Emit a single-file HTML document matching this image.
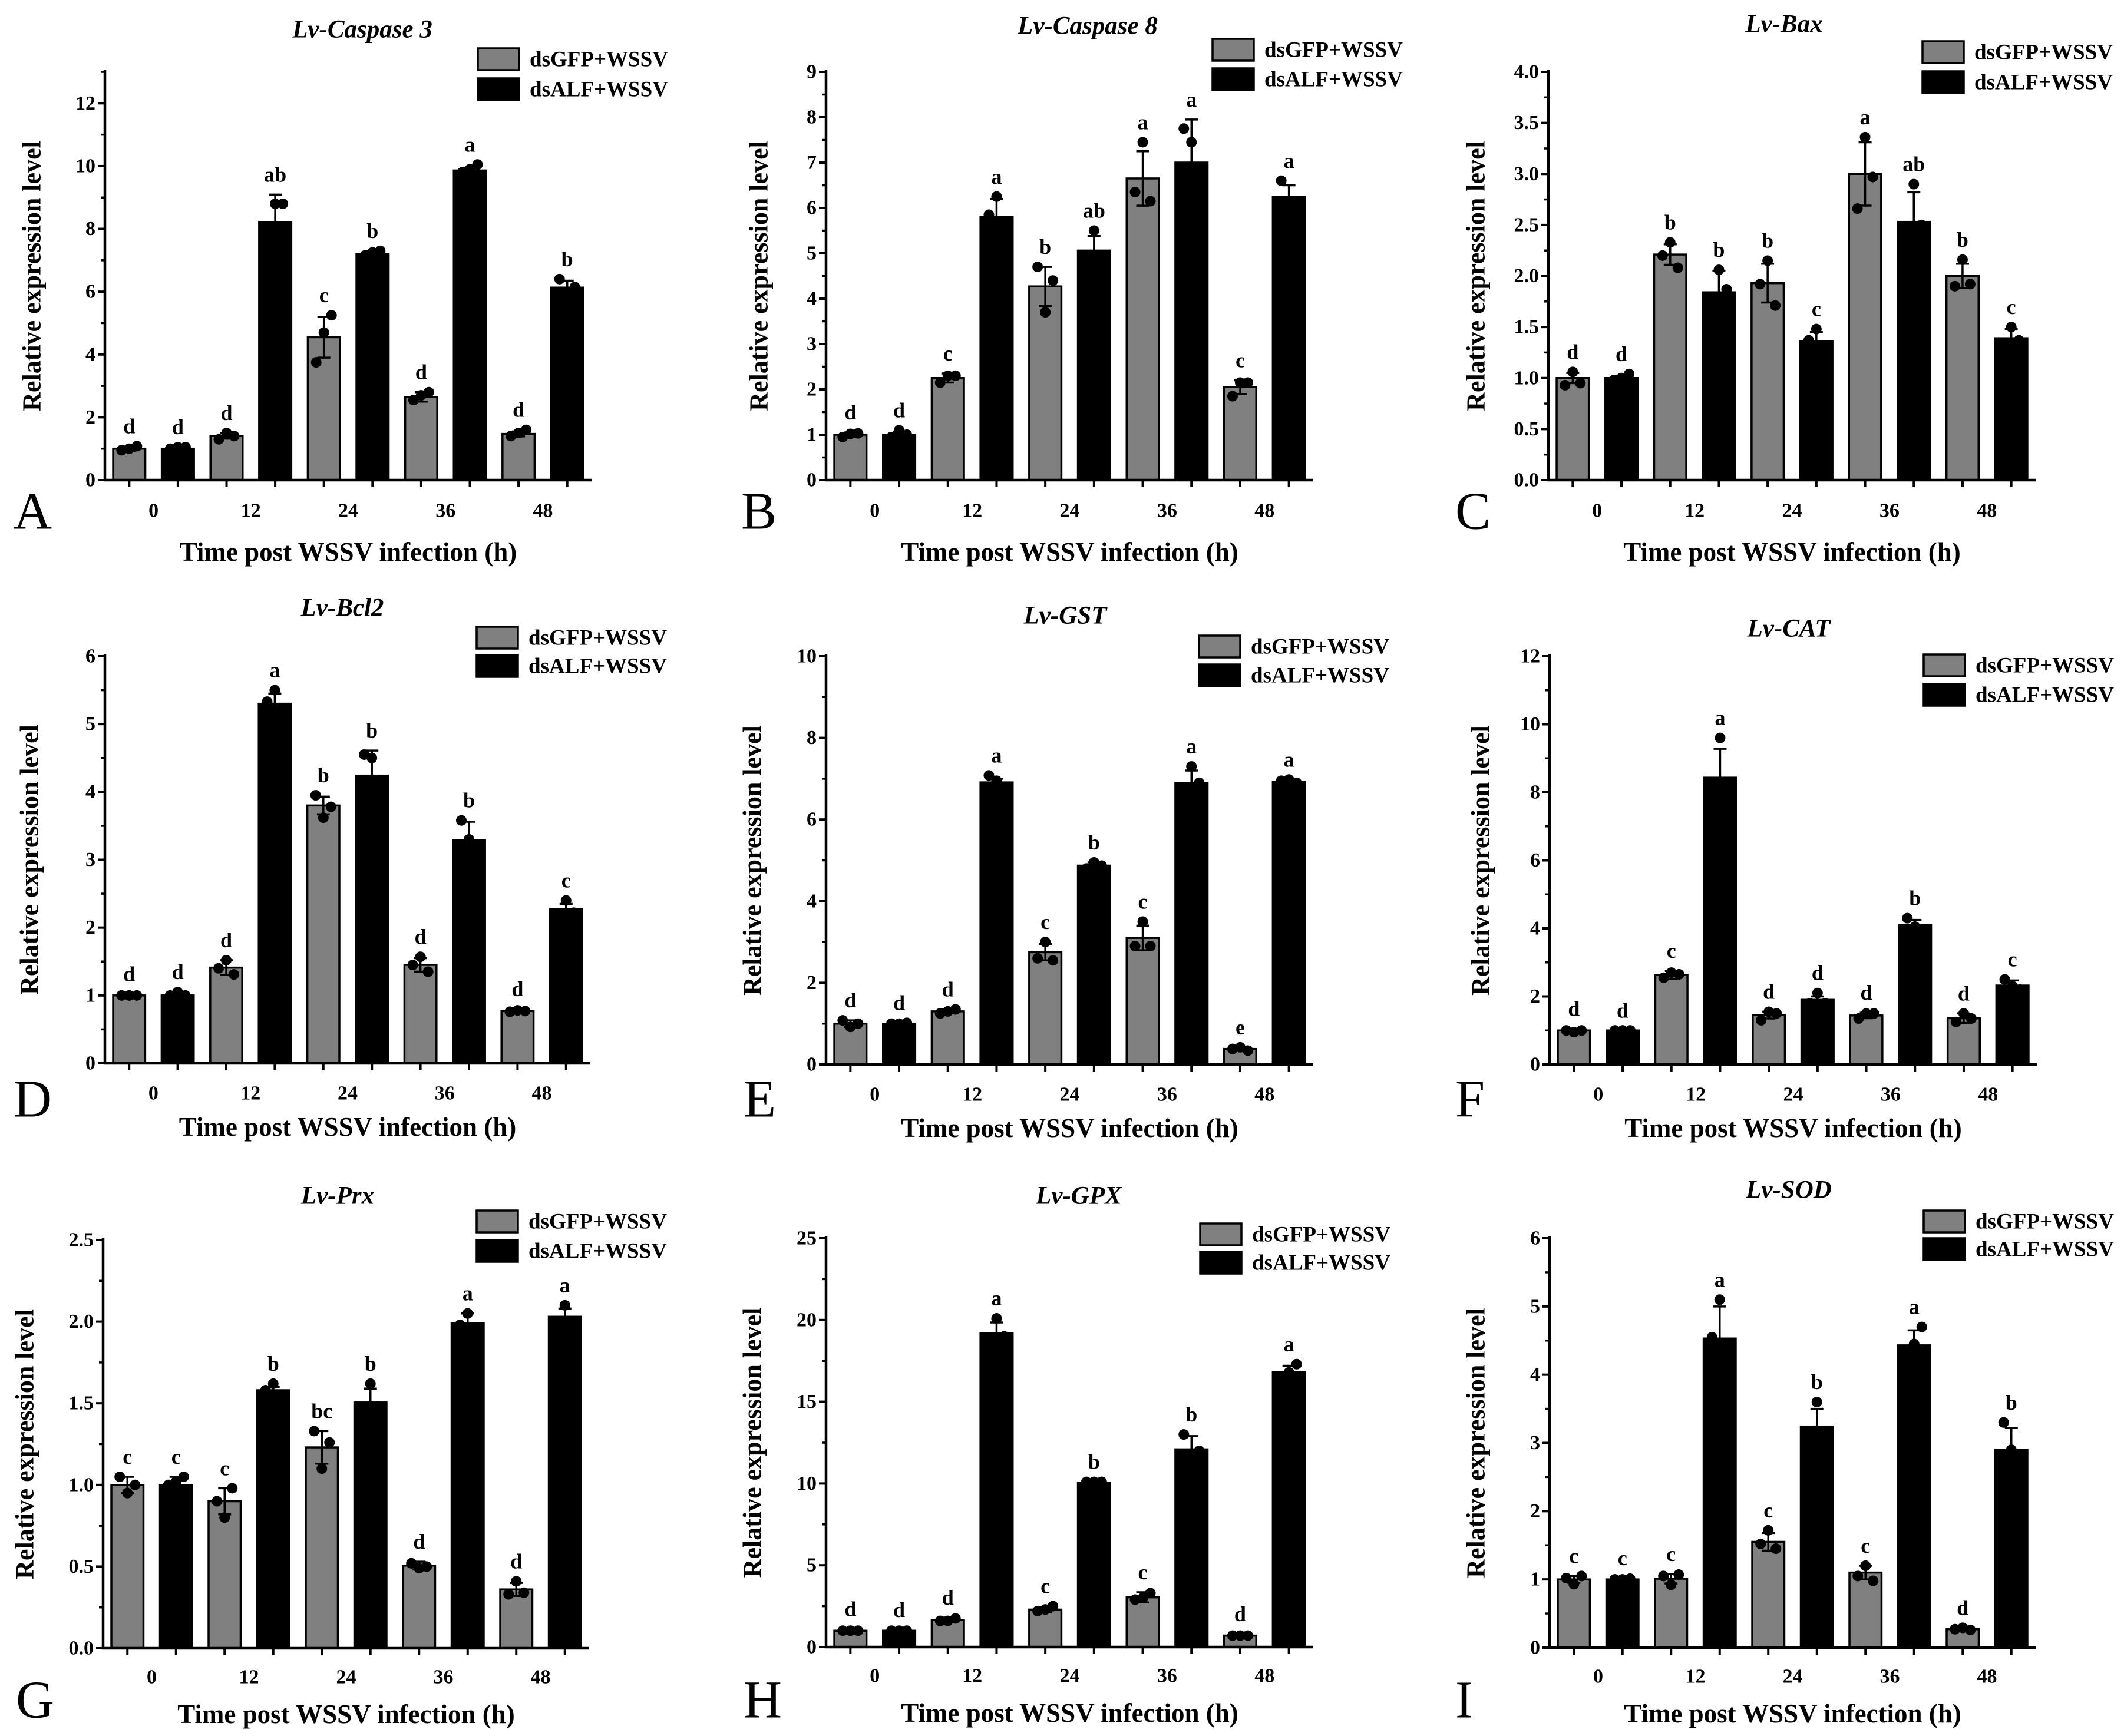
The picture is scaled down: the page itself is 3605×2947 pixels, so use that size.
<!DOCTYPE html>
<html><head><meta charset="utf-8">
<style>
html,body{margin:0;padding:0;background:#fff;}
svg{display:block;}
text{font-family:"Liberation Serif","Times New Roman",serif;}
</style></head>
<body>
<svg id="fig" width="3605" height="2947" viewBox="0 0 3605 2947" xmlns="http://www.w3.org/2000/svg"></svg>
<script>
// ---------- data ----------
const categories = ['0','12','24','36','48'];
const seriesNames = ['dsGFP+WSSV','dsALF+WSSV'];

const casp3Gray = [1.0,1.41,4.55,2.65,1.47];
const casp3Black = [1.0,8.22,7.2,9.86,6.13];
const casp3GrayUp = [1.07,1.5,5.2,2.8,1.55];
const casp3BlackUp = [1.05,9.09,7.3,9.95,6.35];
const casp3GrayDots = [[0.95,1.0,1.08],[1.3,1.5,1.4],[3.75,4.7,5.25],[2.55,2.7,2.8],[1.4,1.5,1.6]];
const casp3BlackDots = [[1.0,1.05,1.05],[7.9,8.8,8.8],[7.15,7.25,7.3],[9.8,9.9,10.05],[6.4,5.95,6.15]];
const casp3GrayLetters = ['d','d','c','d','d'];
const casp3BlackLetters = ['d','ab','b','a','b'];

const casp8Gray = [1.0,2.25,4.27,6.65,2.05];
const casp8Black = [1.0,5.8,5.06,7.0,6.25];
const casp8GrayUp = [1.05,2.35,4.7,7.25,2.2];
const casp8BlackUp = [1.07,6.2,5.38,7.95,6.5];
const casp8GrayDots = [[0.95,1.02,1.03],[2.15,2.3,2.3],[4.7,3.7,4.4],[6.35,7.45,6.15],[1.85,2.15,2.15]];
const casp8BlackDots = [[0.95,1.1,1.0],[5.85,6.25,5.3],[4.8,5.5,4.9],[7.75,7.45,5.8],[6.6,6.0,6.15]];
const casp8GrayLetters = ['d','c','b','a','c'];
const casp8BlackLetters = ['d','a','ab','a','a'];

const baxGray = [1.0,2.21,1.93,3.0,2.0];
const baxBlack = [1.0,1.84,1.36,2.53,1.39];
const baxGrayUp = [1.05,2.31,2.12,3.31,2.12];
const baxBlackUp = [1.02,2.05,1.45,2.82,1.48];
const baxGrayDots = [[0.93,1.06,0.95],[2.2,2.33,2.08],[1.92,2.15,1.71],[2.66,3.36,2.97],[1.9,2.16,1.92]];
const baxBlackDots = [[0.98,1.0,1.04],[1.6,2.06,1.87],[1.37,1.48,1.25],[2.2,2.9,2.5],[1.3,1.5,1.37]];
const baxGrayLetters = ['d','b','b','a','b'];
const baxBlackLetters = ['d','b','c','ab','c'];

const bcl2Gray = [1.0,1.41,3.8,1.45,0.77];
const bcl2Black = [1.0,5.3,4.24,3.29,2.27];
const bcl2GrayUp = [1.02,1.52,3.93,1.55,0.8];
const bcl2BlackUp = [1.03,5.45,4.61,3.56,2.35];
const bcl2GrayDots = [[1.0,1.0,1.0],[1.4,1.52,1.31],[3.95,3.62,3.78],[1.45,1.57,1.35],[0.76,0.78,0.77]];
const bcl2BlackDots = [[1.0,1.05,1.0],[5.33,5.5,5.05],[4.55,4.5,3.7],[3.58,3.3,3.0],[2.2,2.4,2.22]];
const bcl2GrayLetters = ['d','d','b','d','d'];
const bcl2BlackLetters = ['d','a','b','b','c'];

const gstGray = [1.0,1.3,2.75,3.1,0.38];
const gstBlack = [1.0,6.91,4.87,6.9,6.93];
const gstGrayUp = [1.08,1.35,2.95,3.4,0.42];
const gstBlackUp = [1.02,7.0,4.95,7.2,6.98];
const gstGrayDots = [[1.08,0.92,1.0],[1.25,1.3,1.35],[2.6,3.0,2.55],[2.9,3.5,2.9],[0.38,0.42,0.34]];
const gstBlackDots = [[1.0,1.0,1.02],[7.08,6.95,6.75],[4.8,4.95,4.87],[6.5,7.3,6.9],[6.95,6.98,6.9]];
const gstGrayLetters = ['d','d','c','c','e'];
const gstBlackLetters = ['d','a','b','a','a'];

const catGray = [1.0,2.63,1.45,1.44,1.36];
const catBlack = [1.0,8.43,1.9,4.1,2.32];
const catGrayUp = [1.05,2.75,1.55,1.52,1.5];
const catBlackUp = [1.0,9.28,2.0,4.25,2.47];
const catGrayDots = [[1.0,0.95,1.0],[2.55,2.7,2.65],[1.3,1.55,1.5],[1.35,1.5,1.5],[1.25,1.5,1.35]];
const catBlackDots = [[1.0,1.0,1.0],[7.5,9.6,8.2],[1.8,2.1,1.8],[4.3,4.05,3.95],[2.5,2.3,2.2]];
const catGrayLetters = ['d','c','d','d','d'];
const catBlackLetters = ['d','a','d','b','c'];

const prxGray = [1.0,0.9,1.23,0.506,0.36];
const prxBlack = [1.0,1.58,1.505,1.99,2.03];
const prxGrayUp = [1.05,0.98,1.33,0.53,0.4];
const prxBlackUp = [1.05,1.6,1.59,2.05,2.08];
const prxGrayDots = [[1.05,0.95,1.0],[0.9,0.8,0.98],[1.33,1.1,1.26],[0.52,0.49,0.5],[0.33,0.41,0.34]];
const prxBlackDots = [[1.0,1.02,1.05],[1.58,1.62,1.55],[1.4,1.62,1.48],[1.98,2.05,1.95],[2.0,2.1,2.0]];
const prxGrayLetters = ['c','c','bc','d','d'];
const prxBlackLetters = ['c','b','b','a','a'];

const gpxGray = [1.0,1.66,2.29,3.04,0.7];
const gpxBlack = [1.0,19.18,10.05,12.09,16.8];
const gpxGrayUp = [1.1,1.8,2.45,3.35,0.8];
const gpxBlackUp = [1.05,19.85,10.1,12.9,17.2];
const gpxGrayDots = [[1.0,1.0,1.0],[1.6,1.6,1.75],[2.2,2.3,2.5],[2.9,3.0,3.3],[0.7,0.7,0.7]];
const gpxBlackDots = [[1.0,1.0,1.0],[18.5,20.1,19.0],[10.1,10.1,10.1],[13.0,11.5,12.0],[16.5,16.8,17.3]];
const gpxGrayLetters = ['d','d','c','c','d'];
const gpxBlackLetters = ['d','a','b','b','a'];

const sodGray = [1.0,1.01,1.55,1.1,0.27];
const sodBlack = [1.0,4.53,3.24,4.43,2.9];
const sodGrayUp = [1.05,1.08,1.68,1.2,0.29];
const sodBlackUp = [1.02,5.0,3.5,4.65,3.22];
const sodGrayDots = [[1.02,0.93,1.05],[1.05,0.92,1.07],[1.52,1.72,1.45],[1.05,1.2,0.98],[0.27,0.29,0.26]];
const sodBlackDots = [[1.0,1.0,1.01],[4.55,5.1,3.9],[3.0,3.6,3.1],[4.2,4.45,4.7],[3.3,2.9,2.55]];
const sodGrayLetters = ['c','c','c','c','d'];
const sodBlackLetters = ['c','a','b','a','b'];

const panelTitles = ['Lv-Caspase 3','Lv-Caspase 8','Lv-Bax','Lv-Bcl2','Lv-GST','Lv-CAT','Lv-Prx','Lv-GPX','Lv-SOD'];
const panelLetters = ['A','B','C','D','E','F','G','H','I'];
const yMaxes = [13,9,4,6,10,12,2.5,25,6];
const yTickSteps = [2,1,0.5,1,2,2,0.5,5,1];

// ---------- layout ----------
const layout = [
 {x0:178,x1:1004,yt:122,yb:815,lx:811,lg:82,lb:133,tx:615,ty:50,ytx:54,ltx:23,lty:868,xto:122,tlo:52},
 {x0:1402,x1:2229,yt:122,yb:815,lx:2058,lg:66,lb:116,tx:1846,ty:44,ytx:1288,ltx:1258,lty:868,xto:122,tlo:52},
 {x0:2628,x1:3455,yt:122,yb:815,lx:3263,lg:70,lb:121,tx:3028,ty:41,ytx:2505,ltx:2470,lty:868,xto:122,tlo:52},
 {x0:178,x1:1002,yt:1114,yb:1805,lx:809,lg:1064,lb:1112,tx:581,ty:1032,ytx:50,ltx:23,lty:1866,xto:108,tlo:51},
 {x0:1402,x1:2229,yt:1114,yb:1807,lx:2035,lg:1079,lb:1128,tx:1808,ty:1045,ytx:1277,ltx:1262,lty:1866,xto:108,tlo:51},
 {x0:2630,x1:3457,yt:1114,yb:1807,lx:3265,lg:1111,lb:1161,tx:3036,ty:1067,ytx:2513,ltx:2470,lty:1866,xto:108,tlo:51},
 {x0:175,x1:1000,yt:2105,yb:2798,lx:809,lg:2055,lb:2105,tx:573,ty:2030,ytx:42,ltx:27,lty:2886,xto:112,tlo:49},
 {x0:1402,x1:2229,yt:2102,yb:2796,lx:2037,lg:2077,lb:2125,tx:1831,ty:2030,ytx:1277,ltx:1262,lty:2886,xto:112,tlo:49},
 {x0:2630,x1:3455,yt:2102,yb:2797,lx:3265,lg:2055,lb:2102,tx:3036,ty:2020,ytx:2505,ltx:2470,lty:2886,xto:112,tlo:49}
];

const panelData = [
 [casp3Gray,casp3Black,casp3GrayUp,casp3BlackUp,casp3GrayDots,casp3BlackDots,casp3GrayLetters,casp3BlackLetters],
 [casp8Gray,casp8Black,casp8GrayUp,casp8BlackUp,casp8GrayDots,casp8BlackDots,casp8GrayLetters,casp8BlackLetters],
 [baxGray,baxBlack,baxGrayUp,baxBlackUp,baxGrayDots,baxBlackDots,baxGrayLetters,baxBlackLetters],
 [bcl2Gray,bcl2Black,bcl2GrayUp,bcl2BlackUp,bcl2GrayDots,bcl2BlackDots,bcl2GrayLetters,bcl2BlackLetters],
 [gstGray,gstBlack,gstGrayUp,gstBlackUp,gstGrayDots,gstBlackDots,gstGrayLetters,gstBlackLetters],
 [catGray,catBlack,catGrayUp,catBlackUp,catGrayDots,catBlackDots,catGrayLetters,catBlackLetters],
 [prxGray,prxBlack,prxGrayUp,prxBlackUp,prxGrayDots,prxBlackDots,prxGrayLetters,prxBlackLetters],
 [gpxGray,gpxBlack,gpxGrayUp,gpxBlackUp,gpxGrayDots,gpxBlackDots,gpxGrayLetters,gpxBlackLetters],
 [sodGray,sodBlack,sodGrayUp,sodBlackUp,sodGrayDots,sodBlackDots,sodGrayLetters,sodBlackLetters]
];

const NS='http://www.w3.org/2000/svg';
const svg=document.getElementById('fig');
function mk(tag,attrs,parent){const e=document.createElementNS(NS,tag);for(const k in attrs)e.setAttribute(k,attrs[k]);(parent||svg).appendChild(e);return e;}

panelData.forEach((pd,p)=>{
  const L=layout[p];
  const g=mk('g',{});
  
  
  const ymax=yMaxes[p], step=yTickSteps[p];
  const yScale=v=>L.yb-(v/ymax)*(L.yb-L.yt);
  const slot=(L.x1-L.x0)/10;
  const xCenter=(cat,s)=>L.x0+(cat*2+s+0.5)*slot;
  const bw=slot*0.66;

  // title
  const t=mk('text',{x:L.tx,y:L.ty,'text-anchor':'middle','dominant-baseline':'central','font-size':43,'font-weight':'bold','font-style':'italic'},g);
  t.textContent=panelTitles[p];
  
  

  // bars etc
  const colors=['#808080','#000000'];
  for(let s=0;s<2;s++){
    const vals=pd[s], ups=pd[2+s], dots=pd[4+s], lets=pd[6+s];
    vals.forEach((v,i)=>{
      const cx=xCenter(i,s);
      const yv=yScale(v);
      const r=mk('rect',{x:cx-bw/2,y:yv,width:bw,height:L.yb-yv,fill:colors[s],stroke:'#000','stroke-width':3.5},g);
      
      
      const up=yScale(ups[i]), lo=yScale(2*v-ups[i]);
      const cap=11;
      const eb=mk('path',{d:`M${cx} ${lo}V${up}M${cx-cap} ${up}H${cx+cap}M${cx-cap} ${lo}H${cx+cap}`,stroke:s?'#000':'#000','stroke-width':3.5,fill:'none'},g);
      
      
      const offs=[-13,0,13];
      let top=ups[i];
      dots[i].forEach((dv,k)=>{
        top=Math.max(top,dv);
        const c=mk('circle',{cx:cx+offs[k],cy:yScale(dv),r:9,fill:'#000'},g);
        
        
      });
      const lt=mk('text',{x:cx,y:yScale(top)-22,'text-anchor':'middle','font-size':36,'font-weight':'bold'},g);
      lt.textContent=lets[i];
      
      
    });
  }

  // axes
  const ax=mk('path',{d:`M${L.x0} ${L.yt-3}V${L.yb}H${L.x1}`,stroke:'#000','stroke-width':4.5,fill:'none'},g);
  
  
  const nt=Math.round(ymax/step+1e-9);
  for(let k=0;k*step<=ymax+1e-9;k++){
    const v=k*step, y=yScale(v);
    mk('line',{x1:L.x0-12,y1:y,x2:L.x0,y2:y,stroke:'#000','stroke-width':4},g);
    const lbl=mk('text',{x:L.x0-16,y:y,'text-anchor':'end','dominant-baseline':'central','font-size':34,'font-weight':'bold'},g);
    lbl.textContent=(step<1)?v.toFixed(1):String(v);
    
    
    const mv=v+step/2;
    if(mv<=ymax+1e-9){const my=yScale(mv);mk('line',{x1:L.x0-7,y1:my,x2:L.x0,y2:my,stroke:'#000','stroke-width':3.5},g);}
  }
  for(let i=0;i<5;i++){
    for(let s=0;s<2;s++){const cx=xCenter(i,s);mk('line',{x1:cx,y1:L.yb,x2:cx,y2:L.yb+12,stroke:'#000','stroke-width':4},g);}
    const lbl=mk('text',{x:(xCenter(i,0)+xCenter(i,1))/2,y:L.yb+L.tlo,'text-anchor':'middle','dominant-baseline':'central','font-size':34,'font-weight':'bold'},g);
    lbl.textContent=categories[i];
    
    
  }
  const yt=mk('text',{x:L.ytx,y:(L.yt+L.yb)/2,'text-anchor':'middle','dominant-baseline':'central','font-size':44,'font-weight':'bold',transform:`rotate(-90 ${L.ytx} ${(L.yt+L.yb)/2})`},g);
  yt.textContent='Relative expression level';
  
  
  const xt=mk('text',{x:(L.x0+L.x1)/2,y:L.yb+L.xto,'text-anchor':'middle','dominant-baseline':'central','font-size':45,'font-weight':'bold'},g);
  xt.textContent='Time post WSSV infection (h)';
  
  
  const pl=mk('text',{x:L.ltx,y:L.lty,'dominant-baseline':'central','font-size':90},g);
  pl.textContent=panelLetters[p];
  
  

  // legend
  [[L.lg,'#808080'],[L.lb,'#000000']].forEach((e,s)=>{
    const lr=mk('rect',{x:L.lx,y:e[0],width:70,height:37,fill:e[1],stroke:'#000','stroke-width':3.5},g);
    
    
    const lt=mk('text',{x:L.lx+88,y:e[0]+19,'dominant-baseline':'central','font-size':37,'font-weight':'bold'},g);
    lt.textContent=seriesNames[s];
    
    
  });
});
</script>
</body></html>
